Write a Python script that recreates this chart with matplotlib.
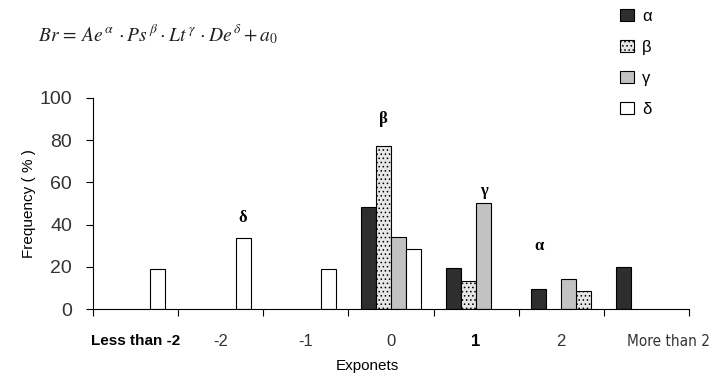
import numpy as np
import matplotlib
matplotlib.use("Agg")
import matplotlib.pyplot as plt
import matplotlib.transforms as mtransforms

# data
categories = ["Less than -2", "-2", "-1", "0", "1", "2", "More than 2"]
alpha_vals = [0, 0, 0, 48.5, 19.5, 9.5, 20]
beta_vals = [0, 0, 0, 77, 13.5, 8.5, 0]
gamma_vals = [0, 0, 0, 34, 50, 14, 0]
delta_vals = [19, 33.5, 19, 28.5, 0, 0, 0]
series_names = ["α", "β", "γ", "δ"]

# greek labels above the dominant bar of each series: (series index, category index, height)
peak_series = [3, 1, 2, 0]
peak_cats = [1, 3, 4, 5]
peak_heights = [43, 90, 56, 30]

plt.rcParams['font.family'] = ['Liberation Sans', 'DejaVu Sans']
plt.rcParams['hatch.color'] = '#777777'
plt.rcParams['hatch.linewidth'] = 0.6
plt.rcParams['mathtext.fontset'] = 'stix'

fig = plt.figure(figsize=(7.14, 3.78), dpi=100)
ax = fig.add_axes([0.130, 0.1825, 0.835, 0.5585])

x = np.arange(len(categories))
w = 15 / 85
offsets = [(i - 1.5) * w for i in range(4)]

styles = [
    dict(color="#2e2e2e", edgecolor="black"),
    dict(color="#e6e6e6", edgecolor="black", hatch="...."),
    dict(color="#c2c2c2", edgecolor="black"),
    dict(color="white", edgecolor="black"),
]

all_vals = [alpha_vals, beta_vals, gamma_vals, delta_vals]
handles = []
for i, vals in enumerate(all_vals):
    pos = x + offsets[i]
    if i == 1:
        # in the original the beta bar of category "2" sits in the last slot
        pos = pos.copy()
        pos[5] = x[5] + offsets[3]
    vals = np.array(vals, dtype=float)
    mask = vals > 0
    b = ax.bar(pos[mask], vals[mask], width=w, linewidth=0.8, **styles[i])
    handles.append(b)

for s, c, h in zip(peak_series, peak_cats, peak_heights):
    ax.text(x[c] + offsets[s], h, series_names[s], ha="center", va="center",
            fontsize=12, fontweight="bold", family=["Liberation Serif", "DejaVu Serif"])

ax.set_xlim(-0.5, len(categories) - 0.5)
ax.set_ylim(0, 100)
ax.set_yticks(np.arange(0, 101, 20))
ax.tick_params(axis="y", labelsize=14, length=5, pad=10, colors="black", labelcolor="#333333")

ax.set_xticks(np.arange(-0.5, len(categories)), minor=False)
ax.set_xticklabels([])
ax.set_xticks(x, minor=True)
ax.set_xticklabels(categories, minor=True)
ax.tick_params(axis="x", which="major", length=5)
ax.tick_params(axis="x", which="minor", length=0, pad=18, labelsize=12, labelcolor="#333333")
for lab in ax.get_xticklabels(minor=True):
    if lab.get_text() in ("Less than -2", "1"):
        lab.set_fontweight("bold")
        lab.set_color("black")
    if lab.get_text() == "Less than -2":
        lab.set_fontsize(11)
    if lab.get_text() == "More than 2":
        lab.set_fontsize(11)
        lab.set_family(["DejaVu Sans"])
        lab.set_stretch("condensed")
        lab.set_horizontalalignment("right")
        lab.set_transform(lab.get_transform() + mtransforms.ScaledTranslation(0.64, 0, fig.dpi_scale_trans))

for sp in ["top", "right"]:
    ax.spines[sp].set_visible(False)

ax.set_ylabel("Frequency ( % )", fontsize=11)
ax.yaxis.set_label_coords(-0.095, 0.5)
ax.set_xlabel("Exponets", fontsize=11)
ax.xaxis.set_label_coords(0.46, -0.235)

fig.text(0.053, 0.91, r"$Br\,=\,Ae^{\,\alpha}\,\cdot Ps^{\,\beta}\cdot Lt^{\,\gamma}\,\cdot De^{\,\delta}+a_0$",
         fontsize=14, va="center", ha="left", color="#222222")

fig.legend(handles, series_names, loc="upper left", bbox_to_anchor=(0.864, 0.986),
           frameon=False, handlelength=0.8, handleheight=0.8, handletextpad=0.5,
           labelspacing=0.95, borderaxespad=0, borderpad=0.2, fontsize=12)

fig.savefig("out.png", dpi=100)
